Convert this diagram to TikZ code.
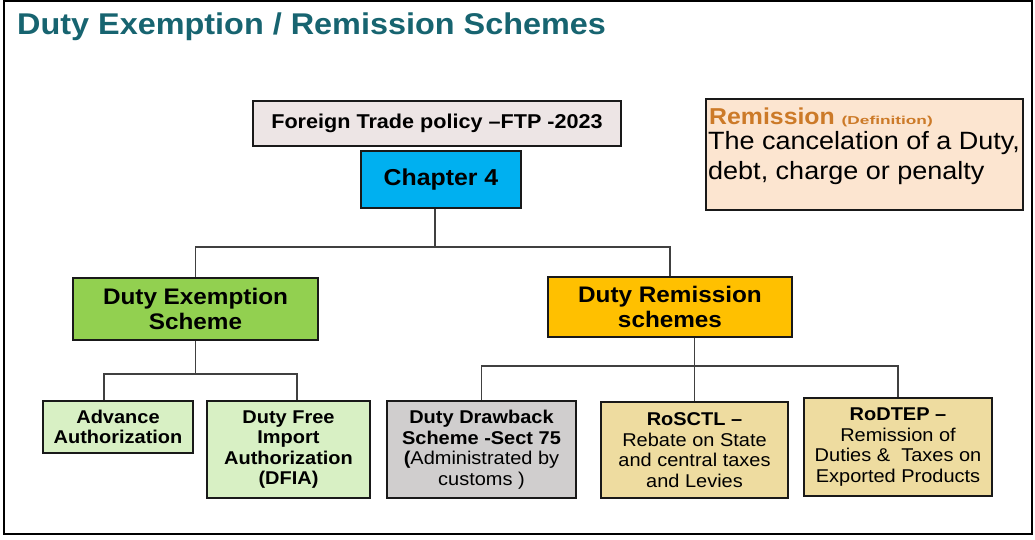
\documentclass[tikz,border=0pt]{standalone}
\usepackage{fontspec}
\setmainfont[FakeStretch=1.08]{Liberation Sans}
\newfontfamily\widefont[FakeStretch=1.5]{Liberation Sans}

\definecolor{titleteal}{RGB}{23,100,112}
\definecolor{ftpgray}{RGB}{237,229,229}
\definecolor{chapblue}{RGB}{0,176,240}
\definecolor{defpeach}{RGB}{252,229,208}
\definecolor{deforange}{RGB}{204,122,40}
\definecolor{exmgreen}{RGB}{146,208,80}
\definecolor{remgold}{RGB}{255,192,0}
\definecolor{leafgreen}{RGB}{216,240,196}
\definecolor{leafgray}{RGB}{208,206,206}
\definecolor{leafsand}{RGB}{238,220,160}
\definecolor{linkgray}{RGB}{64,64,64}

\begin{document}
\begin{tikzpicture}[x=1pt, y=-1pt,
  box/.style={rectangle, draw=black!90, line width=1.6pt, inner sep=0pt, align=center},
  big/.style={font=\bfseries\fontsize{22.5}{25}\selectfont},
  leaf/.style={font=\fontsize{18.5}{20.5}\selectfont},
  leafbold/.style={font=\bfseries\fontsize{18.5}{20.5}\selectfont},
  link/.style={draw=linkgray, line width=1.8pt}
]
  \useasboundingbox (0,0) rectangle (1035,539);
  \draw[line width=2.4pt] (4,1) rectangle (1032,534);

  \node[anchor=base west, inner sep=0pt, text=titleteal, font=\bfseries\fontsize{30}{36}\selectfont] (title) at (17,34) {Duty Exemption / Remission Schemes};

  % top of the tree
  \node[box, fill=ftpgray, minimum width=368pt, minimum height=45pt, font=\bfseries\fontsize{20}{24}\selectfont] (ftp) at (437,123.5) {Foreign Trade policy –FTP -2023};
  \node[box, fill=chapblue, minimum width=160pt, minimum height=57pt, font=\bfseries\fontsize{23}{27}\selectfont] (chap) at (441,179.5) {Chapter 4};

  % definition
  \node[box, fill=defpeach, minimum width=317pt, minimum height=111pt] (def) at (864.5,154.5) {};
  \node[anchor=base west, inner sep=0pt, text=deforange, font=\bfseries\fontsize{23}{27}\selectfont] (defhead) at (709,124) {Remission {\widefont\bfseries\fontsize{11.5}{13}\selectfont (Definition)}};
  \node[anchor=base west, inner sep=0pt, font=\fontsize{25}{30}\selectfont] (defline1) at (708,149) {The cancelation of a Duty,};
  \node[anchor=base west, inner sep=0pt, font=\fontsize{25}{30}\selectfont] (defline2) at (708,179) {debt, charge or penalty};

  % schemes
  \node[box, big, fill=exmgreen, minimum width=245pt, minimum height=62pt] (exm) at (195.5,309) {Duty Exemption\\Scheme};
  \node[box, big, fill=remgold, minimum width=244pt, minimum height=60pt] (rem) at (670,307) {Duty Remission\\schemes};

  \node[box, leafbold, fill=leafgreen, minimum width=150pt, minimum height=52pt] (adv) at (118,427) {Advance\\Authorization};
  \node[box, leafbold, fill=leafgreen, minimum width=163pt, minimum height=97pt] (dfia) at (288.5,449.5) {Duty Free\\Import\\Authorization\\(DFIA)};
  \node[box, leaf, fill=leafgray, minimum width=189pt, minimum height=97pt] (drw) at (481.5,449.5) {\textbf{Duty Drawback}\\\textbf{Scheme -Sect 75}\\\textbf{(}Administrated by\\customs )};
  \node[box, leaf, fill=leafsand, minimum width=187pt, minimum height=96pt] (rosctl) at (694.5,450) {\textbf{RoSCTL –}\\Rebate on State\\and central taxes\\and Levies};
  \node[box, leaf, fill=leafsand, minimum width=188pt, minimum height=98pt] (rodtep) at (898,447) {\textbf{RoDTEP –}\\Remission of\\Duties \&\ \ Taxes on\\Exported Products};

  % connectors
  \draw[link] ([xshift=-6pt]chap.south) -- ++(0,38) coordinate (cbus) -| (exm.north);
  \draw[link] (cbus) -| (rem.north);
  \draw[link] (exm.south) -- ++(0,33) coordinate (ebus);
  \draw[link] ([xshift=-14pt]adv.north) |- (ebus) -| ([xshift=8.5pt]dfia.north);
  \draw[link] (rem.south -| rosctl.north) -- (rosctl.north);
  \draw[link] (drw.north) -- ++(0,-34) -| (rodtep.north);
\end{tikzpicture}
\end{document}
